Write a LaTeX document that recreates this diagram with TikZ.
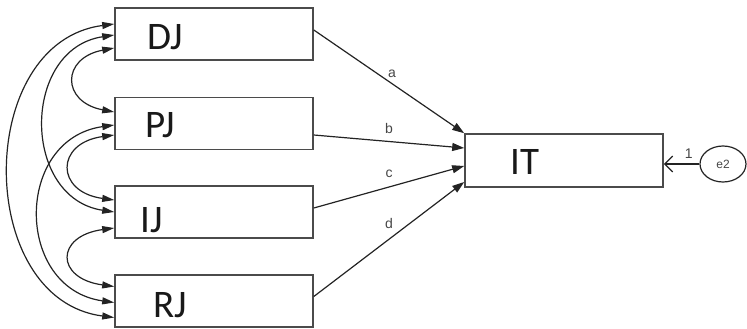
\documentclass[tikz,border=0pt]{standalone}
\usepackage{fontspec}
\newfontfamily\boxfont{Carlito}
\newfontfamily\labfont{Liberation Sans}
\usetikzlibrary{arrows.meta,calc,shapes.geometric}
\definecolor{boxgray}{RGB}{75,75,75}
\definecolor{linegray}{RGB}{35,35,35}
\definecolor{txt}{RGB}{25,25,25}
\definecolor{labgray}{RGB}{70,70,70}
\begin{document}
\begin{tikzpicture}[x=1pt,y=-1pt,
  varbox/.style={draw=boxgray, line width=1.6pt, minimum width=198pt, minimum height=52pt, inner sep=0pt},
  boxtext/.style={font=\boxfont\fontsize{39}{39}\selectfont, text=txt, inner sep=0pt, anchor=base west},
  regpath/.style={draw=linegray, line width=1.2pt, -{Triangle[length=12pt,width=8pt]}},
  cov/.style={draw=linegray, line width=1.2pt, {Triangle[length=12pt,width=7pt]}-{Triangle[length=12pt,width=7pt]}},
  lab/.style={font=\labfont\fontsize{14}{14}\selectfont, text=labgray, inner sep=1pt}
]
\useasboundingbox (0,0) rectangle (747,329);

% boxes
\node[varbox] (DJ) at (214,34) {};
\node[varbox] (PJ) at (214,123.5) {};
\node[varbox] (IJ) at (214,212) {};
\node[varbox] (RJ) at (214,301) {};
\node[varbox, minimum height=53pt] (IT) at (564,160.5) {};

% box texts
\node[boxtext] (DJt) at (147,50) {DJ};
\node[boxtext] (PJt) at (145,137) {PJ};
\node[boxtext] (IJt) at (140,232) {IJ};
\node[boxtext] (RJt) at (153,317) {RJ};
\node[boxtext] (ITt) at (510,174) {IT};

% error term
\node[draw=linegray, line width=1.2pt, ellipse, minimum width=46pt, minimum height=36pt, inner sep=0pt, font=\labfont\fontsize{12}{12}\selectfont, text=labgray] (e2) at (723,164) {e2};

% regression paths
\draw[regpath] ([yshift=4pt]DJ.east) -- (IT.north west)
  node[lab, pos=0.52, above=4pt] (la) {a};
\draw[regpath] ([yshift=-11.5pt]PJ.east) -- ([yshift=12.5pt]IT.west)
  node[lab, pos=0.5, above=6pt] (lb) {b};
\draw[regpath] ([yshift=4pt]IJ.east) -- ([yshift=-5.5pt]IT.west)
  node[lab, pos=0.5, above=8pt] (lc) {c};
\draw[regpath] ([yshift=4.5pt]RJ.east) -- ([yshift=-21.5pt]IT.west)
  node[lab, pos=0.5, above=9pt] (ld) {d};

% error path
\draw[draw=linegray, line width=1.2pt, -{Straight Barb[length=8pt,width=16pt]}] (e2.west) -- ([yshift=-3.5pt]IT.east)
  node[lab, pos=0.3, above=4pt] (l1) {1};

% covariances
\draw[cov] ([yshift=10pt]DJ.west) .. controls +(-140,18) and +(-140,-18) .. ([yshift=-16.5pt]RJ.west);
\draw[cov] ([yshift=-1pt]DJ.west) .. controls +(-93,14) and +(-93,-14) .. ([yshift=0pt]IJ.west);
\draw[cov] ([yshift=-14pt]DJ.west) .. controls +(-53,10) and +(-53,-10) .. ([yshift=11.5pt]PJ.west);
\draw[cov] ([yshift=-1.5pt]PJ.west) .. controls +(-100,14) and +(-100,-14) .. ([yshift=-1.5pt]RJ.west);
\draw[cov] ([yshift=-11.5pt]PJ.west) .. controls +(-59,8) and +(-59,-8) .. ([yshift=12pt]IJ.west);
\draw[cov] ([yshift=-16pt]IJ.west) .. controls +(-59,8) and +(-59,-8) .. ([yshift=14.5pt]RJ.west);
\end{tikzpicture}
\end{document}
